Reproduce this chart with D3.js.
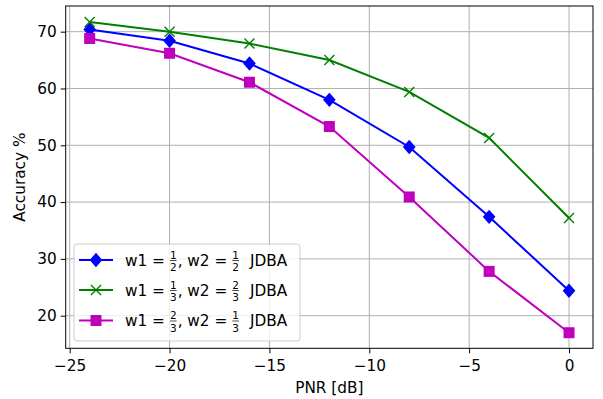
<!DOCTYPE html>
<html><head><meta charset="utf-8">
<script src="https://cdn.jsdelivr.net/npm/d3@7/dist/d3.min.js"></script>
<style>body{margin:0;background:#fff}svg{font-family:"DejaVu Sans",sans-serif}</style>
</head><body><svg id="c" width="603" height="399"></svg>
<script>
const pnr = [-24, -20, -16, -12, -8, -4, 0];
const half = [70.4, 68.4, 64.4, 58.0, 49.7, 37.4, 24.4];
const third = [71.7, 70.0, 67.9, 65.0, 59.4, 51.3, 37.2];
const twoThird = [68.8, 66.2, 61.1, 53.3, 40.9, 27.8, 17.0];
const xTicks = [-25, -20, -15, -10, -5, 0];
const yTicks = [20, 30, 40, 50, 60, 70];
const seriesNames = [["1","2","1","2"],["1","3","2","3"],["2","3","1","3"]];

const series = [
  {vals: half, color: "#0000ff", marker: "D", frac: seriesNames[0]},
  {vals: third, color: "#008000", marker: "x", frac: seriesNames[1]},
  {vals: twoThird, color: "#bf00bf", marker: "s", frac: seriesNames[2]}
];

const FS = 15.3;
const svg = d3.select("#c");
const L = 65.7, R = 593, T = 6, B = 348.3;
const x = d3.scaleLinear().domain([-25.2, 1.2]).range([L, R]);
const y = d3.scaleLinear().domain([14.26, 74.52]).range([B, T]);

// grid
const g = svg.append("g");
g.selectAll(".gx").data(xTicks).join("line")
  .attr("x1", d => x(d)).attr("x2", d => x(d)).attr("y1", T).attr("y2", B)
  .attr("stroke", "#b0b0b0").attr("stroke-width", 1);
g.selectAll(".gy").data(yTicks).join("line")
  .attr("y1", d => y(d)).attr("y2", d => y(d)).attr("x1", L).attr("x2", R)
  .attr("stroke", "#b0b0b0").attr("stroke-width", 1);

// axes
const fmt = d => d < 0 ? "\u2212" + Math.abs(d) : String(d);
const xa = svg.append("g").attr("transform", `translate(0,${B})`)
  .call(d3.axisBottom(x).tickValues(xTicks).tickFormat(fmt).tickSize(5).tickPadding(4));
const ya = svg.append("g").attr("transform", `translate(${L},0)`)
  .call(d3.axisLeft(y).tickValues(yTicks).tickFormat(fmt).tickSize(5).tickPadding(4));
[xa, ya].forEach(a => {
  a.attr("font-size", FS).attr("font-family", "DejaVu Sans");
  a.select(".domain").remove();
  a.selectAll("text").attr("fill", "#000");
  a.selectAll("line").attr("stroke", "#000").attr("stroke-width", 1);
});
xa.selectAll("text").attr("dy", "0.92em");

// lines & markers
function drawMarker(sel, type, color, cx, cy) {
  if (type === "D") {
    const r = 7.2;
    sel.append("path").attr("d", `M${cx},${cy-r}L${cx+r*0.88},${cy}L${cx},${cy+r}L${cx-r*0.88},${cy}Z`).attr("fill", color);
  } else if (type === "s") {
    const r = 5.5;
    sel.append("rect").attr("x", cx-r).attr("y", cy-r).attr("width", 2*r).attr("height", 2*r).attr("fill", color);
  } else {
    const r = 5;
    sel.append("path").attr("d", `M${cx-r},${cy-r}L${cx+r},${cy+r}M${cx-r},${cy+r}L${cx+r},${cy-r}`)
      .attr("stroke", color).attr("stroke-width", 1.4).attr("fill", "none");
  }
}
const line = d3.line().x((d, i) => x(pnr[i])).y(d => y(d));
series.forEach(s => {
  const gs = svg.append("g");
  gs.append("path").attr("d", line(s.vals)).attr("fill", "none").attr("stroke", s.color).attr("stroke-width", 2);
  s.vals.forEach((v, i) => drawMarker(gs, s.marker, s.color, x(pnr[i]), y(v)));
});

// spines
svg.append("rect").attr("x", L).attr("y", T).attr("width", R - L).attr("height", B - T)
  .attr("fill", "none").attr("stroke", "#000").attr("stroke-width", 1);

// axis labels
svg.append("text").attr("x", (L + R) / 2).attr("y", 393).attr("text-anchor", "middle")
  .attr("font-size", FS).text("PNR [dB]");
svg.append("text").attr("transform", `translate(25,${(T + B) / 2}) rotate(-90)`)
  .attr("text-anchor", "middle").attr("font-size", FS).text("Accuracy %");

// legend
const lg = svg.append("g");
lg.append("rect").attr("x", 74).attr("y", 244).attr("width", 226).attr("height", 97)
  .attr("rx", 3).attr("fill", "#fff").attr("fill-opacity", 0.8).attr("stroke", "#cccccc").attr("stroke-width", 1);
const rowsY = [260, 290, 320.5];
series.forEach((s, k) => {
  const cy = rowsY[k];
  lg.append("line").attr("x1", 79).attr("x2", 113).attr("y1", cy).attr("y2", cy)
    .attr("stroke", s.color).attr("stroke-width", 2);
  drawMarker(lg, s.marker, s.color, 96, cy);
  const base = cy + 5.5;
  let cx = 125;
  const addText = (str, gap) => {
    const t = lg.append("text").attr("x", cx).attr("y", base).attr("font-size", FS).text(str);
    cx += t.node().getComputedTextLength() + (gap || 0);
  };
  const addFrac = (n, d) => {
    const fs = 10.5;
    const tn = lg.append("text").attr("x", cx + 1).attr("y", cy - 1.5).attr("font-size", fs).text(n);
    const td = lg.append("text").attr("x", cx + 1).attr("y", cy + 11).attr("font-size", fs).text(d);
    const w = Math.max(tn.node().getComputedTextLength(), td.node().getComputedTextLength());
    lg.append("line").attr("x1", cx + 1).attr("x2", cx + 1 + w).attr("y1", cy + 0.5).attr("y2", cy + 0.5)
      .attr("stroke", "#000").attr("stroke-width", 0.7);
    cx += w + 2;
  };
  addText("w1 =", 4);
  addFrac(s.frac[0], s.frac[1]);
  addText(", w2 =", 4);
  addFrac(s.frac[2], s.frac[3]);
  cx += 10;
  addText("JDBA");
});
</script></body></html>
